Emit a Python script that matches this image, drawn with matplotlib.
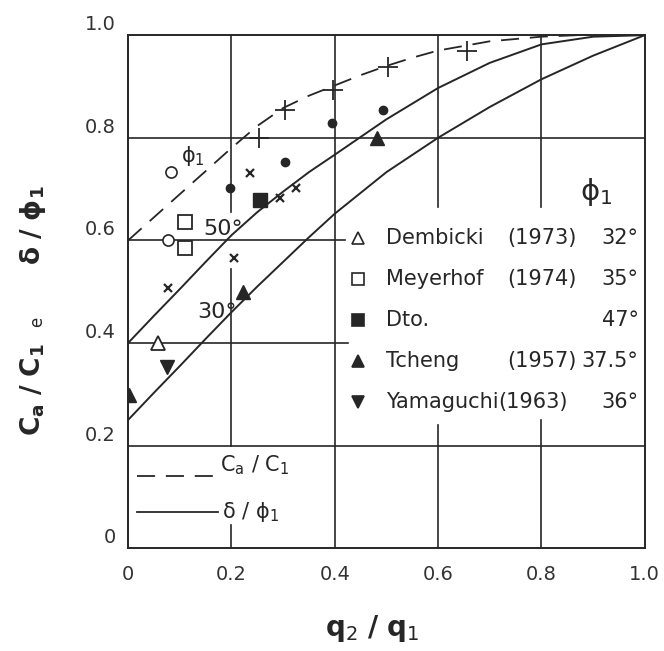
import numpy as np
import matplotlib
matplotlib.use("Agg")
import matplotlib.pyplot as plt
from matplotlib.transforms import ScaledTranslation

# curves
q_ratio = [0.0, 0.05, 0.1, 0.15, 0.2, 0.25, 0.3, 0.35, 0.4, 0.5, 0.6, 0.7, 0.8, 0.9, 1.0]
delta_50 = [0.40, 0.453, 0.505, 0.558, 0.61, 0.655, 0.695, 0.733, 0.767, 0.836, 0.897, 0.946, 0.982, 0.997, 1.0]
delta_30 = [0.25, 0.303, 0.355, 0.408, 0.46, 0.51, 0.558, 0.606, 0.652, 0.733, 0.80, 0.86, 0.914, 0.96, 1.0]

q_dash = [0.0, 0.1, 0.2, 0.25, 0.3, 0.35, 0.4, 0.45, 0.5, 0.55, 0.6, 0.7, 0.8, 0.87]
ca_c1 = [0.60, 0.69, 0.78, 0.823, 0.858, 0.882, 0.902, 0.922, 0.94, 0.956, 0.97, 0.988, 0.997, 1.0]

# measured points
circle_open_x = [0.083, 0.077]
circle_open_y = [0.733, 0.60]
square_open_x = [0.11, 0.11]
square_open_y = [0.635, 0.585]
dembicki_x = [0.058]
dembicki_y = [0.40]
dto_x = [0.255]
dto_y = [0.678]
tcheng_x = [0.002, 0.222, 0.482]
tcheng_y = [0.298, 0.499, 0.80]
yamaguchi_x = [0.075]
yamaguchi_y = [0.353]
cross_x = [0.077, 0.205, 0.236, 0.294, 0.325]
cross_y = [0.507, 0.565, 0.731, 0.682, 0.702]
dot_x = [0.197, 0.304, 0.395, 0.493]
dot_y = [0.702, 0.752, 0.828, 0.854]
plus_x = [0.253, 0.304, 0.397, 0.503, 0.655]
plus_y = [0.80, 0.854, 0.893, 0.938, 0.97]

ticks = [0, 0.2, 0.4, 0.6, 0.8, 1.0]
tick_labels = ["0", "0.2", "0.4", "0.6", "0.8", "1.0"]

legend_markers = ["^", "s", "s", "^", "v"]
legend_filled = [False, False, True, True, True]
legend_names = ["Dembicki", "Meyerhof", "Dto.", "Tcheng", "Yamaguchi"]
legend_years = ["(1973)", "(1974)", "", "(1957)", "(1963)"]
legend_phi = ["32°", "35°", "47°", "37.5°", "36°"]

ink = "#262626"

fig = plt.figure(figsize=(6.64, 6.51), dpi=100)
ax = fig.add_axes([0.193, 0.158, 0.778, 0.788])
ax.set_xlim(0, 1)
ax.set_ylim(0, 1)

# grid drawn in pieces, the legends sit in the gaps
vgrid = {0.2: [(0, 0.045), (0.2, 0.545), (0.655, 1)],
         0.4: [(0, 1)],
         0.6: [(0, 0.24), (0.665, 1)],
         0.8: [(0, 0.25), (0.665, 1)]}
hgrid = {0.2: [(0, 1)], 0.4: [(0, 0.425)], 0.6: [(0, 0.42)], 0.8: [(0, 1)]}
for xv, segs in vgrid.items():
    for a, b in segs:
        ax.plot([xv, xv], [a, b], color=ink, lw=1.2, zorder=1)
for yv, segs in hgrid.items():
    for a, b in segs:
        ax.plot([a, b], [yv, yv], color=ink, lw=1.2, zorder=1)

ax.plot(q_ratio, delta_50, color=ink, lw=1.4, zorder=2)
ax.plot(q_ratio, delta_30, color=ink, lw=1.4, zorder=2)
ax.plot(q_dash, ca_c1, color=ink, lw=1.3, ls=(0, (10, 6)), zorder=2)

ax.plot(circle_open_x, circle_open_y, "o", ms=8, mfc="white", mec=ink, mew=1.2, ls="none", zorder=3)
ax.plot(square_open_x, square_open_y, "s", ms=10, mfc="white", mec=ink, mew=1.3, ls="none", zorder=3)
ax.plot(dembicki_x, dembicki_y, "^", ms=10, mfc="white", mec=ink, mew=1.3, ls="none", zorder=3)
ax.plot(dto_x, dto_y, "s", ms=10, color=ink, ls="none", zorder=3)
ax.plot(tcheng_x, tcheng_y, "^", ms=10, color=ink, ls="none", zorder=3)
ax.plot(yamaguchi_x, yamaguchi_y, "v", ms=10, color=ink, ls="none", zorder=3)
ax.plot(cross_x, cross_y, "x", ms=6, mew=1.6, color=ink, ls="none", zorder=3)
ax.plot(dot_x, dot_y, "o", ms=6, color=ink, ls="none", zorder=3)
ax.plot(plus_x, plus_y, "+", ms=14, mew=1.3, color=ink, ls="none", zorder=3)

# curve labels
ax.text(0.145, 0.623, "50°", fontsize=16, color=ink, va="center", ha="left")
ax.text(0.133, 0.46, "30°", fontsize=16, color=ink, va="center", ha="left")
ax.text(0.125, 0.765, r"$\mathrm{\phi}_1$", fontsize=15, color=ink, va="center", ha="center")

# legend of data sources
ax.text(0.907, 0.694, r"$\mathrm{\phi}_1$", fontsize=21, color=ink, va="center", ha="center")
row_y0, row_step = 0.604, 0.08
for i in range(len(legend_names)):
    ry = row_y0 - i * row_step
    face = ink if legend_filled[i] else "white"
    ax.plot([0.445], [ry], legend_markers[i], ms=9, mfc=face, mec=ink, mew=1.2, ls="none",
            zorder=3)
    ax.text(0.50, ry, legend_names[i], fontsize=15, color=ink, va="center", ha="left")
    yx = 0.717 if legend_names[i] == "Yamaguchi" else 0.733
    ax.text(yx, ry, legend_years[i], fontsize=15, color=ink, va="center", ha="left")
    ax.text(0.988, ry, legend_phi[i], fontsize=15, color=ink, va="center", ha="right")

# legend of line styles
ax.plot([0.017, 0.174], [0.14, 0.14], color=ink, lw=1.3, ls=(0, (10, 6)), transform=ax.transAxes)
ax.plot([0.017, 0.174], [0.07, 0.07], color=ink, lw=1.3, transform=ax.transAxes)
ax.text(0.178, 0.138, r"$\mathrm{C_a\ /\ C_1}$", fontsize=15, color=ink, va="bottom", ha="left",
        transform=ax.transAxes)
ax.text(0.182, 0.07, r"$\mathrm{\delta\ /\ \phi_1}$", fontsize=15, color=ink, va="center", ha="left",
        transform=ax.transAxes)

for s in ax.spines.values():
    s.set_linewidth(1.4)
    s.set_color(ink)

ax.set_xticks(ticks)
ax.set_xticklabels(tick_labels)
ax.set_yticks(ticks)
ax.set_yticklabels(tick_labels)
ax.tick_params(length=0, labelsize=14, labelcolor="#333333")
ax.tick_params(axis="x", pad=12)
ax.tick_params(axis="y", pad=9)
for lab in ax.get_yticklabels():
    lab.set_transform(lab.get_transform() + ScaledTranslation(0, 9 / 72, fig.dpi_scale_trans))

fig.text(372 / 664, 1 - 628 / 651, r"$\mathbf{q}_2\ \mathbf{/}\ \mathbf{q}_1$", fontsize=20,
         color=ink, ha="center", va="center")
fig.text(33 / 664, 1 - 390 / 651, r"$\mathbf{C_a\ /\ C_1}$", fontsize=19, color=ink,
         rotation=90, ha="center", va="center")
fig.text(37 / 664, 1 - 322 / 651, "e", fontsize=12, color=ink, rotation=90, ha="center",
         va="center")
fig.text(33 / 664, 1 - 225 / 651, r"$\mathbf{\delta\ /\ \phi_1}$", fontsize=19, color=ink,
         rotation=90, ha="center", va="center")

fig.savefig("out.png", dpi=100, facecolor="white")
